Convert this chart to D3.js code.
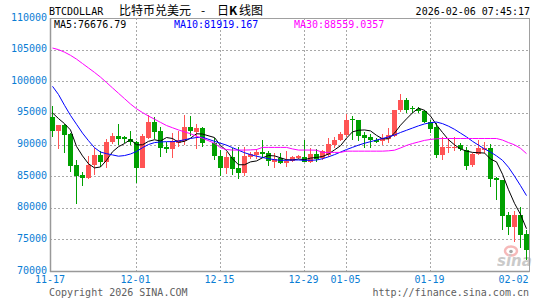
<!DOCTYPE html>
<html>
<head>
<meta charset="utf-8">
<script src="https://cdn.jsdelivr.net/npm/d3@7"></script>
<style>
body { margin: 0; background: #fff; }
svg { display: block; }
text { font-family: "DejaVu Sans Mono", monospace; font-size: 10px; }
</style>
</head>
<body>
<div id="chart"></div>
<script>
// daily candles 2025-11-17 .. 2026-02-04 (12-13 has no bar)
const days = d3.timeDay.range(new Date(2025, 10, 17), new Date(2026, 1, 5));
const fmt = d3.timeFormat("%m-%d");
const dates = days.map(fmt);

const priceOpen = [94330,92170,93070,91650,86750,85200,84750,86700,88330,87270,90430,91330,91120,90900,90400,86320,91120,93590,92120,89540,89230,90200,90500,92720,92010,92640,null,90180,88170,86280,87960,86320,85530,88060,88330,88850,88600,87270,87900,87110,87430,87900,88060,87270,88490,87800,88220,89910,90600,91490,93970,93860,91490,91220,90700,90430,90810,91380,95440,97020,95700,95650,95280,93590,92800,88330,89550,89550,89910,89120,86640,88440,89120,89490,84750,84380,78850,77000,78850,75800];
const priceHigh = [96070,93100,93200,91800,87540,85650,88170,89390,89000,90800,91850,93200,91400,92100,90540,91600,94600,94300,92800,90400,91850,92200,94700,94490,93300,92800,null,90970,89100,88850,89500,89600,89540,88850,89230,90700,89010,88600,88600,88960,88200,88300,90700,89480,89230,89100,91060,91220,91900,94760,94490,93900,92010,91700,91000,91600,92640,95500,97920,97290,96070,95900,95500,93860,93340,91220,90970,91220,90200,89640,88700,90700,90400,90020,84900,84400,79370,79480,80160,76480];
const priceLow = [91220,89230,88600,85600,80630,83480,84550,85170,86400,86230,90070,89950,90180,89950,83860,86230,90860,90900,88060,88700,87800,89600,90000,91300,89300,89640,null,87540,85000,85400,85200,84500,85010,87700,87700,87900,86640,86320,86960,86480,87300,87750,87170,87010,87270,87600,88100,89390,90500,91220,90700,90540,89390,89500,90200,89900,90180,91200,95170,94920,94920,95000,93400,91750,87900,87540,88600,89000,89000,85960,86400,88300,88700,83330,81220,76500,75690,74630,73640,71800];
const priceClose = [92170,93070,91490,86640,85010,84780,86800,88330,87270,90450,91330,90930,90800,90430,86320,91330,93590,92010,89390,89180,90500,90700,92720,92010,92580,90330,null,88060,86320,87950,86070,85530,88170,88490,88850,88490,87380,87700,87170,87380,88060,88170,87270,88490,87700,88960,90020,90700,91600,93860,93810,91380,90970,90700,90430,90960,91490,95440,97020,95440,95600,95330,93590,92540,88330,89640,89650,89650,89280,86640,88440,89390,89390,84650,84380,78740,77000,78850,75690,73320];

const ma5 = [95000,94100,93300,92300,89700,88200,86950,86300,86450,87500,88850,89650,90150,90800,89950,89950,90500,90750,90550,91100,90950,90350,90500,91000,91700,91650,null,91100,89850,89050,87750,86800,86800,87250,87400,87900,88250,88200,87900,87600,87550,87700,87600,87850,87950,88100,88500,89150,89800,91000,92000,92250,92300,92150,91450,90900,90900,91800,93050,94050,95000,95750,95400,94500,93100,91900,90750,89950,89300,88950,88750,88700,88650,87700,87250,85300,82850,80700,78950,76680];
const ma10 = [99200,97900,96200,94600,93200,91800,90600,89500,88800,88550,88350,88150,88250,88500,88900,89500,90000,90300,90400,90450,90450,90550,90750,90950,91100,91150,null,90500,90200,89900,89500,89100,88700,88400,88150,87950,87750,87600,87500,87500,87550,87550,87500,87500,87550,87750,88050,88400,88800,89200,89550,89900,90200,90450,90700,90950,91200,91500,91900,92250,92600,92950,93250,93450,93550,93300,92900,92400,91800,91200,90500,89900,89300,88800,88200,87500,86400,85000,83500,81920];
const ma30 = [105250,105000,104600,104100,103500,102800,102100,101400,100650,99800,98950,98100,97250,96400,95650,95050,94500,94000,93500,93000,92650,92300,92000,91700,91300,91000,null,90200,89500,89200,89120,89120,89120,89150,89200,89540,89540,89540,89540,89540,89300,89120,89120,89120,89100,88750,88750,88750,88750,88950,88950,88950,88950,88950,88950,88950,89000,89100,89450,89850,90150,90400,90650,90800,90900,90950,90950,90950,90950,90950,90950,90950,90950,90950,90950,90700,90300,89950,89400,88560];

const maLast = ["MA5:76676.79", "MA10:81919.167", "MA30:88559.0357"];
const yTicks = [70000, 75000, 80000, 85000, 90000, 95000, 100000, 105000, 110000];
const xTicks = ["11-17", "12-01", "12-15", "12-29", "01-05", "01-19", "02-02"];
const xGrid = ["12-01", "12-15", "12-29", "01-05", "01-19"];

const W = 545, H = 300;
const plotLeft = 49.5, plotRight = 529.5, plotTop = 18, plotBottom = 271;
const upColor = "#ff5454", downColor = "#00a000", labelColor = "#0a7dd4";

const svg = d3.select("#chart").append("svg")
	.attr("width", W)
	.attr("height", H);

const x = d3.scaleBand().domain(dates).range([plotLeft, plotRight]);
const y = d3.scaleLinear().domain([70000, 110000]).range([plotBottom, plotTop]);
const cx = function (d) { return x(d) + x.bandwidth() / 2; };
const py = function (v) { return Math.round(y(v)) + 0.5; };

//grid
svg.selectAll(".hgrid")
	.data(yTicks.filter(function (v) { return v > 70000 && v < 110000; }))
	.enter().append("line")
	.attr("x1", plotLeft).attr("x2", plotRight)
	.attr("y1", py).attr("y2", py)
	.style("stroke", "#a8a8a8")
	.style("stroke-dasharray", "2,2")
	.style("shape-rendering", "crispEdges");

svg.selectAll(".vgrid")
	.data(xGrid)
	.enter().append("line")
	.attr("x1", cx).attr("x2", cx)
	.attr("y1", plotTop).attr("y2", plotBottom)
	.style("stroke", "#a8a8a8")
	.style("stroke-dasharray", "2,2")
	.style("shape-rendering", "crispEdges");

//frame
svg.append("rect")
	.attr("x", 50.5).attr("y", plotTop + 0.5)
	.attr("width", plotRight - 50.5).attr("height", plotBottom - plotTop)
	.style("fill", "none")
	.style("stroke", "#a0a0a0")
	.style("shape-rendering", "crispEdges");
svg.append("line")
	.attr("x1", 50.5).attr("x2", 50.5).attr("y1", plotTop).attr("y2", plotBottom + 1)
	.style("stroke", "#999").style("stroke-width", 1.5);
svg.append("line")
	.attr("x1", 50).attr("x2", plotRight).attr("y1", plotBottom + 0.5).attr("y2", plotBottom + 0.5)
	.style("stroke", "#999").style("stroke-width", 1.5);

//watermark
const logo = svg.append("g").style("opacity", 0.55);
logo.append("ellipse")
	.attr("cx", 511).attr("cy", 251).attr("rx", 6).attr("ry", 4.5)
	.style("fill", "none").style("stroke", "#f08080").style("stroke-width", 2.5);
logo.append("circle")
	.attr("cx", 511).attr("cy", 251.5).attr("r", 1.8)
	.style("fill", "#606060");
logo.append("text")
	.attr("x", 497).attr("y", 266)
	.style("font-family", "'DejaVu Sans', sans-serif")
	.style("font-size", "15px")
	.style("font-weight", "bold")
	.style("font-style", "italic")
	.style("fill", "#a0a0a0")
	.text("sina");

//candles
const bars = dates.map(function (d, i) {
	return {date: d, o: priceOpen[i], h: priceHigh[i], l: priceLow[i], c: priceClose[i]};
}).filter(function (d) { return d.o !== null; });

const candle = svg.selectAll(".candle")
	.data(bars)
	.enter().append("g")
	.attr("class", "candle")
	.style("shape-rendering", "crispEdges");

candle.append("line")
	.attr("x1", function (d) { return cx(d.date); })
	.attr("x2", function (d) { return cx(d.date); })
	.attr("y1", function (d) { return Math.round(y(d.h)); })
	.attr("y2", function (d) { return Math.round(y(d.l)); })
	.style("stroke", function (d) { return d.c >= d.o ? upColor : downColor; })
	.style("stroke-width", 1);

candle.append("rect")
	.attr("x", function (d) { return cx(d.date) - 2.5; })
	.attr("width", 5)
	.attr("y", function (d) { return Math.round(y(Math.max(d.o, d.c))); })
	.attr("height", function (d) { return Math.max(1, Math.round(Math.abs(y(d.o) - y(d.c)))); })
	.style("fill", function (d) { return d.c >= d.o ? upColor : downColor; });

//moving averages
const maSeries = [
	{values: ma5, color: "#000000"},
	{values: ma10, color: "#0000ff"},
	{values: ma30, color: "#ff00ff"}
];
const line = d3.line()
	.x(function (d) { return cx(d[0]); })
	.y(function (d) { return y(d[1]); });

maSeries.forEach(function (s) {
	const pts = dates.map(function (d, i) { return [d, s.values[i]]; })
		.filter(function (p) { return p[1] !== null; });
	svg.append("path")
		.attr("d", line(pts))
		.style("fill", "none")
		.style("stroke", s.color)
		.style("stroke-width", 1);
});

//axis labels
svg.selectAll(".ylab")
	.data(yTicks)
	.enter().append("text")
	.attr("x", 47)
	.attr("y", function (d) { return y(d) - 1; })
	.attr("dy", "0.35em")
	.attr("text-anchor", "end")
	.style("fill", labelColor)
	.text(function (d) { return d; });

svg.selectAll(".xlab")
	.data(xTicks)
	.enter().append("text")
	.attr("x", function (d) { return d === "11-17" ? 50 : cx(d) - 1; })
	.attr("y", 283)
	.attr("text-anchor", "middle")
	.style("fill", labelColor)
	.text(function (d) { return d; });

//title and legend
svg.append("text").attr("x", 49).attr("y", 15).text("BTCDOLLAR");
const title = svg.append("text").attr("y", 15)
	.style("font-family", "'Noto Sans CJK SC', sans-serif")
	.style("font-size", "12px");
title.append("tspan").attr("x", 119).text("比特币兑美元");
title.append("tspan").attr("x", 201).text("-");
title.append("tspan").attr("x", 217).text("日");
title.append("tspan").attr("x", 229).style("font-weight", "bold").text("K");
title.append("tspan").attr("x", 239).text("线图");
svg.append("text").attr("x", 530).attr("y", 15)
	.attr("text-anchor", "end")
	.text("2026-02-06 07:45:17");

svg.selectAll(".legend")
	.data(maLast)
	.enter().append("text")
	.attr("x", function (d, i) { return [54, 174, 294][i]; })
	.attr("y", 28)
	.style("fill", function (d, i) { return maSeries[i].color; })
	.text(function (d) { return d; });

svg.append("text").attr("x", 49).attr("y", 296)
	.style("fill", "#606060")
	.text("Copyright 2026 SINA.COM");
svg.append("text").attr("x", 529).attr("y", 296)
	.attr("text-anchor", "end")
	.style("fill", "#606060")
	.text("http://finance.sina.com.cn");
</script>
</body>
</html>
